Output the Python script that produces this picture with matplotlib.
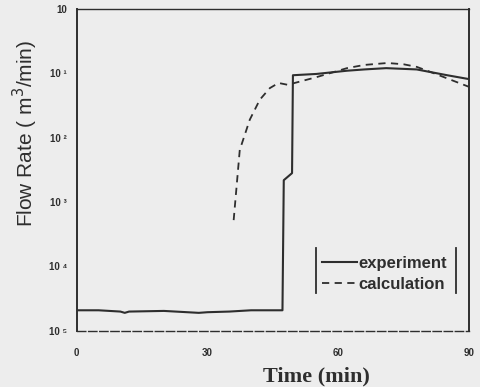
import matplotlib
matplotlib.use("Agg")
import matplotlib.pyplot as plt
import numpy as np

# Data (time in min, flow rate as log10 value)
exp_t = [0, 5, 10, 11, 12, 20, 28, 30, 35, 40, 47.2, 47.5, 49.4, 49.6, 55, 62, 66, 71, 78, 85, 90]
exp_log = [-4.68, -4.68, -4.70, -4.72, -4.70, -4.69, -4.72, -4.71, -4.70, -4.68, -4.68, -2.66, -2.55, -1.03, -1.01, -0.96, -0.94, -0.92, -0.94, -1.03, -1.09]
calc_t = [36.0, 37.4, 39.7, 42.0, 44.3, 46.3, 48.5, 50.0, 55, 62, 66, 71.3, 75, 78, 81.2, 90]
calc_log = [-3.28, -2.19, -1.72, -1.41, -1.23, -1.15, -1.18, -1.15, -1.06, -0.92, -0.87, -0.84, -0.86, -0.90, -0.98, -1.21]

ytick_vals = [1e-5, 1e-4, 1e-3, 1e-2, 1e-1, 1e0]
ytick_labels = ["10 ⁵", "10 ⁴", "10 ³", "10 ²", "10 ¹", "10"]
xtick_vals = [0, 30, 60, 90]
xtick_labels = ["0", "30", "60", "90"]

bg = "#ededed"
ink = "#2e2e2e"

fig = plt.figure(figsize=(4.8, 3.87), dpi=100, facecolor=bg)
ax = fig.add_axes([0.160, 0.145, 0.817, 0.832], facecolor=bg)

ax.plot(exp_t, 10 ** np.array(exp_log), color=ink, lw=1.5, ls="-", label="experiment")
ax.plot(calc_t, 10 ** np.array(calc_log), color=ink, lw=1.3, ls=(0, (4, 3)), label="calculation")

ax.set_yscale("log")
ax.set_ylim(1e-5, 1e0)
ax.set_xlim(0, 90)
ax.set_yticks(ytick_vals)
ax.set_yticklabels(ytick_labels)
ax.minorticks_off()
ax.set_xticks(xtick_vals)
ax.set_xticklabels(xtick_labels)
ax.tick_params(length=0, labelsize=7, colors=ink)
ax.tick_params(axis="y", pad=7)
ax.tick_params(axis="x", pad=12)
for lab in ax.get_xticklabels() + ax.get_yticklabels():
    lab.set_fontweight("bold")
    lab.set_family("Liberation Sans")

for s in ax.spines.values():
    s.set_color(ink)
    s.set_linewidth(1.4)
ax.spines["top"].set_linewidth(1.0)
ax.spines["bottom"].set_linewidth(1.0)
ax.spines["bottom"].set_linestyle((0, (6, 2)))

ax.set_ylabel("Flow Rate ( m$^{3}$/min)", fontsize=15, family="Liberation Sans", color=ink)
ax.yaxis.set_label_coords(-0.094, 0.612)
ax.set_xlabel("Time (min)", fontsize=16, family="Liberation Serif", fontweight="bold", color=ink)
ax.xaxis.set_label_coords(0.612, -0.112)

leg = ax.legend(loc="upper left", bbox_to_anchor=(0.625, 0.233), frameon=False,
                prop={"family": "Liberation Sans", "weight": "bold", "size": 12},
                handlelength=2.1, handletextpad=0.1, labelspacing=0.38, borderpad=0,
                borderaxespad=0)
for t in leg.get_texts():
    t.set_color(ink)

# legend box side bars
ax.plot([0.610, 0.610], [0.118, 0.258], transform=ax.transAxes, color=ink, lw=1.3)
ax.plot([0.967, 0.967], [0.118, 0.258], transform=ax.transAxes, color=ink, lw=1.3)

fig.savefig("out.png", dpi=100, facecolor=bg)
